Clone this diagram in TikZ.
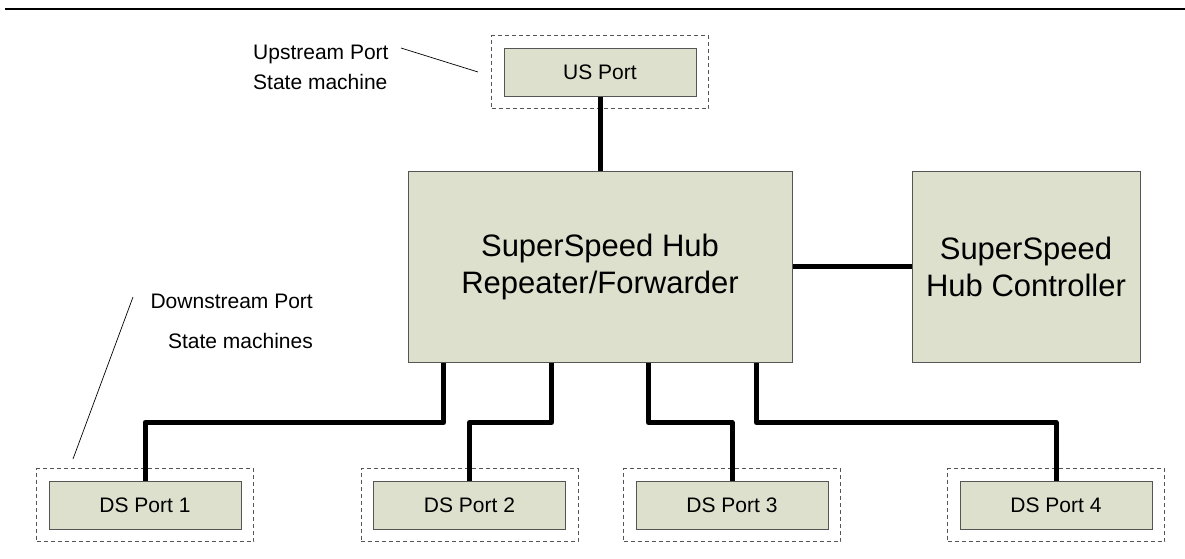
\documentclass[tikz,border=0pt]{standalone}
\usepackage{fontspec}
\setmainfont{Liberation Sans}
\usepackage{tikz}
\usetikzlibrary{positioning,fit}
\definecolor{hubSage}{RGB}{221,224,204}
\definecolor{hubEdge}{RGB}{85,85,85}

\begin{document}
\begin{tikzpicture}[x=1pt, y=-1pt, every node/.style={font=\fontsize{21}{25}\selectfont},
  portbox/.style={draw=hubEdge, fill=hubSage, line width=1pt, minimum width=192pt, minimum height=48pt, inner sep=0pt},
  bigbox/.style={draw=hubEdge, fill=hubSage, line width=1pt, inner sep=0pt, align=center, font=\fontsize{31}{37}\selectfont},
  portframe/.style={draw=hubEdge, line width=0.8pt, dash pattern=on 4pt off 3pt, inner sep=12pt},
  bus/.style={line width=5pt, line join=round},
  leader/.style={line width=0.7pt},
  lbl/.style={inner sep=0pt}]
  \useasboundingbox (0,0) rectangle (1185,558);
  % Top rule
  \draw[line width=2.5pt] (5,9) -- (1185,9);
  % Hub blocks
  \node[bigbox, minimum width=384pt, minimum height=191pt] (hub) at (600,266.5) {SuperSpeed Hub\\Repeater/Forwarder};
  \node[bigbox, minimum width=228pt, minimum height=191pt] (ctrl) at (1026,266.5) {SuperSpeed\\Hub Controller};
  % US port
  \node[portbox] (us) at (600,72) {US Port};
  \node[portframe, fit=(us)] (usframe) {};
  % DS ports
  \node[portbox] (ds1) at (145,505) {DS Port 1};
  \node[portbox] (ds2) at (469.5,505) {DS Port 2};
  \node[portbox] (ds3) at (732,505) {DS Port 3};
  \node[portbox] (ds4) at (1056,505) {DS Port 4};
  \foreach \i in {1,...,4}
    \node[portframe, fit=(ds\i)] (ds\i frame) {};
  % Links
  \draw[bus] (us) -- (hub);
  \draw[bus] (hub) -- (ctrl);
  \draw[bus] ([xshift=36pt]hub.south west) -- ++(0,60) -| (ds1.north);
  \draw[bus] ([xshift=144pt]hub.south west) -- ++(0,60) -| (ds2.north);
  \draw[bus] ([xshift=-144pt]hub.south east) -- ++(0,60) -| (ds3.north);
  \draw[bus] ([xshift=-36pt]hub.south east) -- ++(0,60) -| (ds4.north);
  % Upstream label
  \node[lbl, anchor=base west] (uplbl) at (253,59) {Upstream Port};
  \node[lbl, anchor=base west] (upsub) at (253,89) {State machine};
  \coordinate (upA) at (401,48);
  \coordinate (upB) at (478,72);
  \draw[leader] (upA) -- (upB);
  % Downstream label
  \node[lbl, anchor=base east] (dnlbl) at (313,308) {Downstream Port};
  \node[lbl, anchor=base east] (dnsub) at (313,348) {State machines};
  \coordinate (dnA) at (133,297);
  \coordinate (dnB) at (73,459);
  \draw[leader] (dnA) -- (dnB);
\end{tikzpicture}
\end{document}
